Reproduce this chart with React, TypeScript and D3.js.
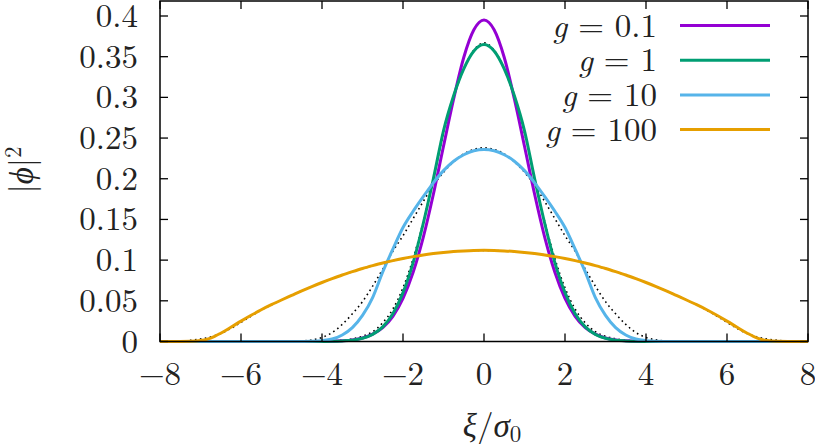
import React from 'react';
import * as d3 from 'd3';

// x grid, step 0.25 from -8 to 8
const xs = d3.range(65).map(i => -8 + 0.25 * i);

const z = (n: number) => Array(n).fill(0);

// values
const g01 = [...z(16), 0.0001, 0.0003, 0.0009, 0.002, 0.0043, 0.009, 0.017, 0.031, 0.053, 0.085, 0.128, 0.181, 0.240, 0.298, 0.349, 0.383,
  0.395,
  0.383, 0.349, 0.298, 0.240, 0.181, 0.128, 0.085, 0.053, 0.031, 0.017, 0.009, 0.0043, 0.002, 0.0009, 0.0003, 0.0001, ...z(16)];

const g1 = [...z(16), 0.0001, 0.0002, 0.0007, 0.0017, 0.004, 0.0088, 0.018, 0.034, 0.060, 0.097, 0.145, 0.200, 0.259, 0.302, 0.335, 0.357,
  0.365,
  0.357, 0.335, 0.302, 0.259, 0.200, 0.145, 0.097, 0.060, 0.034, 0.018, 0.0088, 0.004, 0.0017, 0.0007, 0.0002, 0.0001, ...z(16)];

const g10 = [...z(14), 0.0001, 0.0003, 0.001, 0.003, 0.008, 0.017, 0.032, 0.054, 0.0855, 0.1135, 0.140, 0.160, 0.178, 0.195, 0.210, 0.2215, 0.2295, 0.2345,
  0.236,
  0.2345, 0.2295, 0.2215, 0.210, 0.195, 0.178, 0.160, 0.140, 0.1135, 0.0855, 0.054, 0.032, 0.017, 0.008, 0.003, 0.001, 0.0003, 0.0001, ...z(14)];

const g100 = [0, 0, 0, 0.0002, 0.0011, 0.0042, 0.0102, 0.0175, 0.025, 0.0322, 0.039, 0.0452, 0.051, 0.0566, 0.0622, 0.0675, 0.0725, 0.0772, 0.0817, 0.0858, 0.0897, 0.0932, 0.0965, 0.0994, 0.1020, 0.1043, 0.1064, 0.1081, 0.1095, 0.1106, 0.1113, 0.1118,
  0.112,
  0.1118, 0.1113, 0.1106, 0.1095, 0.1081, 0.1064, 0.1043, 0.1020, 0.0994, 0.0965, 0.0932, 0.0897, 0.0858, 0.0817, 0.0772, 0.0725, 0.0675, 0.0622, 0.0566, 0.051, 0.0452, 0.039, 0.0322, 0.025, 0.0175, 0.0102, 0.0042, 0.0011, 0.0002, 0, 0, 0];

// dotted approximations
const approx1 = [...z(15), 0.0001, 0.0003, 0.0007, 0.0016, 0.0033, 0.0065, 0.012, 0.023, 0.040, 0.066, 0.102, 0.147, 0.200, 0.256, 0.300, 0.335, 0.358,
  0.367,
  0.358, 0.335, 0.300, 0.256, 0.200, 0.147, 0.102, 0.066, 0.040, 0.023, 0.012, 0.0065, 0.0033, 0.0016, 0.0007, 0.0003, 0.0001, ...z(15)];

const approx10 = [...z(13), 0.0001, 0.0006, 0.002, 0.005, 0.011, 0.021, 0.034, 0.049, 0.068, 0.089, 0.111, 0.130, 0.151, 0.172, 0.192, 0.208, 0.221, 0.2305, 0.236,
  0.238,
  0.236, 0.2305, 0.221, 0.208, 0.192, 0.172, 0.151, 0.130, 0.111, 0.089, 0.068, 0.049, 0.034, 0.021, 0.011, 0.005, 0.002, 0.0006, 0.0001, ...z(13)];

const approx100 = [0, 0.0001, 0.0005, 0.0014, 0.003, 0.0055, 0.0098, 0.016, 0.0235, 0.0312, 0.0385, 0.045, 0.051, 0.0566, 0.0622, 0.0675, 0.0725, 0.0772, 0.0817, 0.0858, 0.0897, 0.0932, 0.0965, 0.0994, 0.1020, 0.1043, 0.1064, 0.1081, 0.1095, 0.1106, 0.1113, 0.1118,
  0.112,
  0.1118, 0.1113, 0.1106, 0.1095, 0.1081, 0.1064, 0.1043, 0.1020, 0.0994, 0.0965, 0.0932, 0.0897, 0.0858, 0.0817, 0.0772, 0.0725, 0.0675, 0.0622, 0.0566, 0.051, 0.045, 0.0385, 0.0312, 0.0235, 0.016, 0.0098, 0.0055, 0.003, 0.0014, 0.0005, 0.0001, 0];

const seriesNames = ['0.1', '1', '10', '100'];
const seriesColors = ['#9400d3', '#009e73', '#56b4e9', '#e69f00'];
const seriesValues = [g01, g1, g10, g100];
const dottedValues = [approx1, approx10, approx100];

const xTicks = [-8, -6, -4, -2, 0, 2, 4, 6, 8];
const yTicks = [0, 0.05, 0.1, 0.15, 0.2, 0.25, 0.3, 0.35, 0.4];

const W = 815, H = 444;
const left = 160, right = 808, top = 1, bottom = 341.5;
const font = 'Latin Modern Roman';
const fs = 33;
const ink = '#222';

const fmtX = (v: number) => (v < 0 ? '\u2212' + Math.abs(v) : String(v));

const App = () => {
  const x = d3.scaleLinear().domain([-8, 8]).range([left, right]);
  const y = d3.scaleLinear().domain([0, 0.4]).range([bottom, 16]);

  const line = d3.line<number>()
    .x((d, i) => x(xs[i]))
    .y(d => y(d))
    .curve(d3.curveMonotoneX);

  const tick = 8;

  return (
    <svg width={W} height={H} style={{position: 'absolute', left: 0, top: 0}}>
      {/* dotted approximations, under the coloured curves */}
      {dottedValues.map((vals, i) => (
        <path key={'d' + i} d={line(vals) || ''} fill="none" stroke="#000"
          strokeWidth={1.6} strokeDasharray="1.6,3.4" />
      ))}
      {seriesValues.map((vals, i) => (
        <path key={'s' + i} d={line(vals) || ''} fill="none" stroke={seriesColors[i]}
          strokeWidth={3} strokeLinejoin="round" />
      ))}

      {/* frame */}
      <rect x={left} y={top} width={right - left} height={bottom - top} fill="none" stroke="#000" strokeWidth={1.5} />

      {xTicks.map(t => (
        <g key={'x' + t}>
          <line x1={x(t)} x2={x(t)} y1={bottom} y2={bottom - tick} stroke="#000" strokeWidth={1.3} />
          <line x1={x(t)} x2={x(t)} y1={top} y2={top + tick} stroke="#000" strokeWidth={1.3} />
          <text x={x(t)} y={385} textAnchor="middle" fontSize={fs} fontFamily={font} fill={ink}>{fmtX(t)}</text>
        </g>
      ))}
      {yTicks.map(t => (
        <g key={'y' + t}>
          <line x1={left} x2={left + tick} y1={y(t)} y2={y(t)} stroke="#000" strokeWidth={1.3} />
          <line x1={right} x2={right - tick} y1={y(t)} y2={y(t)} stroke="#000" strokeWidth={1.3} />
          <text x={138} y={y(t) + 11} textAnchor="end" fontSize={fs} fontFamily={font} fill={ink}>{String(t)}</text>
        </g>
      ))}

      {/* axis labels */}
      <text x={492} y={437} textAnchor="middle" fontSize={fs} fontFamily={font} fill={ink}>
        <tspan fontStyle="italic">ξ</tspan>/<tspan fontStyle="italic">σ</tspan><tspan fontSize={23} dy={5}>0</tspan>
      </text>
      <text transform="translate(33,170) rotate(-90)" textAnchor="middle" fontSize={fs} fontFamily={font} fill={ink}>
        |<tspan fontStyle="italic">ϕ</tspan>|<tspan fontSize={23} dy={-12}>2</tspan>
      </text>

      {/* legend */}
      {seriesNames.map((n, i) => {
        const ry = 25.5 + i * 34.7;
        return (
          <g key={'l' + i}>
            <text x={657} y={ry + 11} textAnchor="end" fontSize={fs} fontFamily={font} fill={ink}>
              <tspan fontStyle="italic">g</tspan> = {n}
            </text>
            <line x1={680} x2={770} y1={ry} y2={ry} stroke={seriesColors[i]} strokeWidth={3} />
          </g>
        );
      })}
    </svg>
  );
};

export default App;
